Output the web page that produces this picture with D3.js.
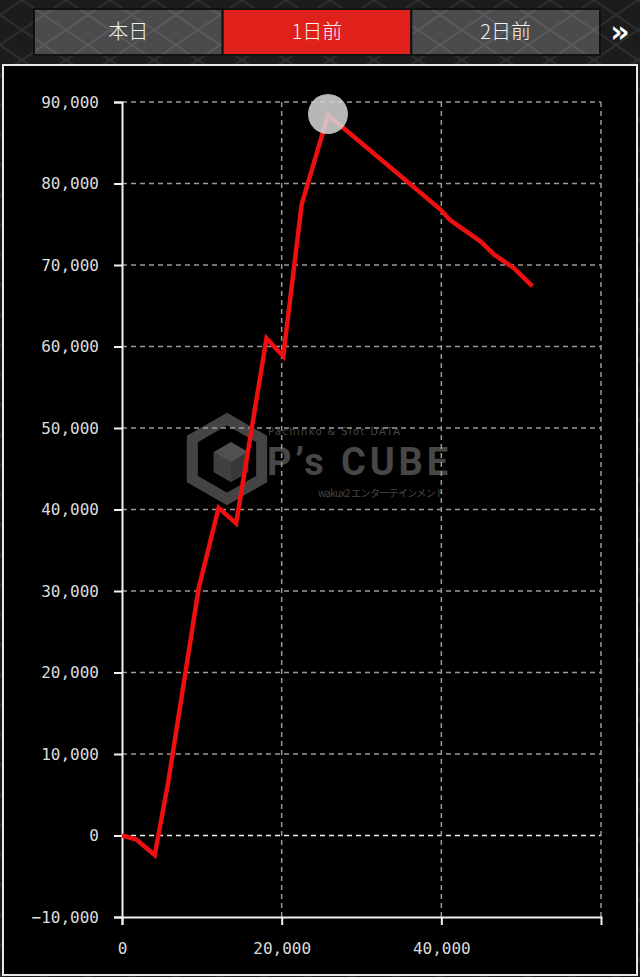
<!DOCTYPE html>
<html>
<head>
<meta charset="utf-8">
<script src="https://cdn.jsdelivr.net/npm/d3@7"></script>
<style>
  body { margin: 0; background: #1b1b1b; }
  svg { display: block; }
</style>
</head>
<body>
<div id="chart"></div>
<script>
// tabs along the top
const tabLabels = ["本日", "1日前", "2日前"];
const activeTab = "1日前";

// series: x = games, y = difference
const gamesVals = [0, 1800, 4100, 5800, 9600, 12100, 14300, 18100, 20200, 22500, 25800,
    39900, 41100, 44900, 46600, 49100, 51400];
const diffVals = [0, -500, -2400, 6600, 30300, 40200, 38300, 61000, 58800, 77400, 88400,
    76800, 75500, 72900, 71300, 69600, 67400];

const yTicks = [-10000, 0, 10000, 20000, 30000, 40000, 50000, 60000, 70000, 80000, 90000];
const xTicks = [0, 20000, 40000];
const xGrid = [20000, 40000, 60000];

const width = 640, height = 977;
const margin = {left: 122, right: 39, top: 102, bottom: 60};

let svg = d3.select("#chart")
    .append("svg")
    .attr("width", width)
    .attr("height", height);

// diamond background pattern
let defs = svg.append("defs");
let pat = defs.append("pattern")
    .attr("id", "dia")
    .attr("width", 44).attr("height", 30)
    .attr("patternUnits", "userSpaceOnUse");
pat.append("rect").attr("width", 44).attr("height", 30).attr("fill", "#1c1c1c");
pat.append("path")
    .attr("d", "M0,15 L22,0 L44,15 L22,30 Z")
    .attr("fill", "none").attr("stroke", "#2f2f2f").attr("stroke-width", 2);

let tabPat = defs.append("pattern")
    .attr("id", "tabdia")
    .attr("width", 44).attr("height", 30)
    .attr("patternUnits", "userSpaceOnUse");
tabPat.append("rect").attr("width", 44).attr("height", 30).attr("fill", "#4b4b4d");
tabPat.append("path")
    .attr("d", "M0,15 L22,0 L44,15 L22,30 Z")
    .attr("fill", "none").attr("stroke", "#5a5a5c").attr("stroke-width", 2);

svg.append("rect").attr("width", width).attr("height", height).attr("fill", "url(#dia)");

// tabs
let tabX = d3.scaleBand().domain(tabLabels).range([34, 600]);

let tabs = svg.append("g").selectAll("g").data(tabLabels).enter().append("g");
tabs.append("rect")
    .attr("x", d => tabX(d))
    .attr("y", 9)
    .attr("width", tabX.bandwidth())
    .attr("height", 46)
    .attr("fill", d => d === activeTab ? "#e0201a" : "url(#tabdia)")
    .attr("stroke", "#111")
    .attr("stroke-width", 2);
tabs.append("text")
    .attr("x", d => tabX(d) + tabX.bandwidth() / 2)
    .attr("y", 32)
    .attr("dy", "0.35em")
    .style("text-anchor", "middle")
    .style("font-family", "'Noto Sans CJK JP', sans-serif")
    .style("font-size", "20px")
    .style("font-weight", 300)
    .attr("fill", "#f2f2f2")
    .text(d => d);

svg.append("text")
    .attr("x", 620)
    .attr("y", 31)
    .attr("dy", "0.35em")
    .style("text-anchor", "middle")
    .style("font-family", "'DejaVu Sans', sans-serif")
    .style("font-size", "30px")
    .style("font-weight", "bold")
    .attr("fill", "#fff")
    .text("»");

// panel
svg.append("rect")
    .attr("x", 3).attr("y", 65)
    .attr("width", 634).attr("height", 910)
    .attr("fill", "#000")
    .attr("stroke", "#e8e8e8")
    .attr("stroke-width", 2);

let x = d3.scaleLinear().domain([0, 60000]).range([margin.left, width - margin.right]);
let y = d3.scaleLinear().domain([-10000, 90000]).range([height - margin.bottom, margin.top]);

// watermark
let wm = svg.append("g").attr("fill", "#474747");
let hex = (cx, cy, r) => d3.range(6).map(i => {
    let a = Math.PI / 3 * i - Math.PI / 2;
    return [cx + r * Math.cos(a), cy + r * Math.sin(a)];
});
wm.append("path")
    .attr("d", "M" + hex(227, 459, 40).join("L") + "Z")
    .attr("fill", "none").attr("stroke", "#444").attr("stroke-width", 11);
wm.append("path")
    .attr("d", "M" + hex(231, 462, 20).join("L") + "Z")
    .attr("fill", "#505050");
wm.append("path")
    .attr("d", "M231,462 L248,452 L248,472 L231,482 Z").attr("fill", "#383838");
wm.append("path")
    .attr("d", "M231,462 L214,452 L214,472 L231,482 Z").attr("fill", "#404040");
wm.append("text")
    .attr("x", 267).attr("y", 475)
    .attr("textLength", 181)
    .style("font-family", "Roboto, sans-serif")
    .style("font-size", "38px")
    .style("font-weight", "bold")
    .text("P’s CUBE");
wm.append("text")
    .attr("x", 268).attr("y", 435)
    .attr("textLength", 132)
    .style("font-family", "'DejaVu Sans', sans-serif")
    .style("font-size", "10px")
    .text("Pachinko & Slot DATA");
wm.append("text")
    .attr("x", 318).attr("y", 497)
    .attr("textLength", 127)
    .style("font-family", "'Noto Sans CJK JP', sans-serif")
    .style("font-size", "10px")
    .text("wakux2 エンターテインメント");

// grid
let grid = svg.append("g");
grid.selectAll("line.h").data(yTicks.filter(d => d > -10000)).enter()
    .append("line")
    .attr("x1", x(0)).attr("x2", x(60000))
    .attr("y1", d => y(d)).attr("y2", d => y(d))
    .attr("stroke", d => d === 0 ? "#f0f0f0" : "#9a9a9a")
    .attr("stroke-width", 1.5)
    .attr("stroke-dasharray", "5,4");
grid.selectAll("line.v").data(xGrid).enter()
    .append("line")
    .attr("x1", d => x(d)).attr("x2", d => x(d))
    .attr("y1", y(90000)).attr("y2", y(-10000))
    .attr("stroke", "#9a9a9a")
    .attr("stroke-width", 1.5)
    .attr("stroke-dasharray", "5,4");

// axes
let yAxis = svg.append("g")
    .attr("transform", `translate(${margin.left}, 0)`)
    .call(d3.axisLeft(y).tickValues(yTicks).tickFormat(d3.format(",")).tickSize(8).tickPadding(15));
let xAxis = svg.append("g")
    .attr("transform", `translate(0, ${y(-10000)})`)
    .call(d3.axisBottom(x).tickValues(xTicks).tickFormat(d3.format(",")).tickSize(8).tickPadding(18));

[yAxis, xAxis].forEach(a => {
    a.selectAll("path, line").attr("stroke", "#f0f0f0").attr("stroke-width", 2);
    a.selectAll("text")
        .attr("fill", "#dcdcdc")
        .style("font-family", "'DejaVu Sans Mono', monospace")
        .style("font-size", "16px");
});

// the line
let data = gamesVals.map((g, i) => ({g: g, v: diffVals[i]}));
let line = d3.line().x(d => x(d.g)).y(d => y(d.v));

svg.append("path")
    .datum(data)
    .attr("d", line)
    .attr("fill", "none")
    .attr("stroke", "#ee1010")
    .attr("stroke-width", 4.5);

// max marker
let peak = data[d3.maxIndex(data, d => d.v)];
svg.append("circle")
    .attr("cx", x(peak.g))
    .attr("cy", y(peak.v) - 1)
    .attr("r", 20)
    .attr("fill", "rgba(215,215,215,0.85)");
</script>
</body>
</html>
